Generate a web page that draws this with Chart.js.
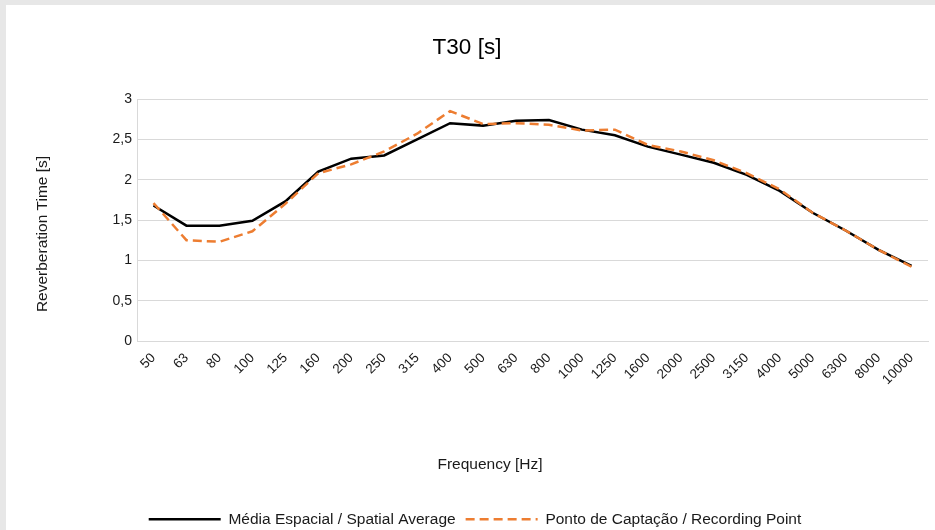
<!DOCTYPE html>
<html>
<head>
<meta charset="utf-8">
<script src="https://cdn.jsdelivr.net/npm/chart.js@4.4.0/dist/chart.umd.min.js"></script>
<style>
  html, body { margin: 0; padding: 0; background: #e7e7e7; overflow: hidden; }
  #card { position: absolute; left: 6px; top: 5px; width: 929px; height: 532px; background: #fff; }
</style>
</head>
<body>
<div id="card"><canvas id="myChart" width="929" height="532"></canvas></div>
<script>
  const frequencies = ['50', '63', '80', '100', '125', '160', '200', '250', '315', '400', '500', '630',
    '800', '1000', '1250', '1600', '2000', '2500', '3150', '4000', '5000', '6300', '8000', '10000'];
  const spatialAverage = [1.68, 1.43, 1.43, 1.49, 1.73, 2.10, 2.26, 2.30, 2.50, 2.70, 2.67, 2.73,
    2.74, 2.62, 2.55, 2.41, 2.31, 2.21, 2.06, 1.86, 1.59, 1.37, 1.13, 0.93];
  const recordingPoint = [1.71, 1.25, 1.23, 1.36, 1.70, 2.08, 2.19, 2.35, 2.57, 2.85, 2.69, 2.70,
    2.68, 2.61, 2.62, 2.43, 2.35, 2.24, 2.08, 1.88, 1.59, 1.37, 1.13, 0.92];
  const yTickLabels = ['0', '0,5', '1', '1,5', '2', '2,5', '3'];

  const chartTitle = 'T30 [s]';
  const xTitle = 'Frequency [Hz]';
  const yTitle = 'Reverberation Time [s]';

  const FONT = '"Liberation Sans", Arial, sans-serif';

  // axis titles drawn by hand so they sit where the original has them
  const axisTitles = {
    id: 'axisTitles',
    afterLayout(chart) {
      // legend sits a bit right of the canvas centre in the original
      chart.legend.left += 8;
      chart.legend.right += 8;
    },
    afterDraw(chart) {
      const ctx = chart.ctx;
      ctx.save();
      ctx.fillStyle = '#1a1a1a';
      ctx.font = '15.5px ' + FONT;
      ctx.textAlign = 'center';
      ctx.textBaseline = 'middle';
      ctx.fillText(xTitle, 484, 460);
      ctx.translate(37, 229);
      ctx.rotate(-Math.PI / 2);
      ctx.fillText(yTitle, 0, 0);
      ctx.restore();
    }
  };

  function legendLabels(chart) {
    const items = Chart.defaults.plugins.legend.labels.generateLabels(chart);
    items.forEach(item => {
      const ds = chart.data.datasets[item.datasetIndex];
      item.lineDash = ds.borderDash || [];
      item.lineWidth = ds.borderWidth;
      item.strokeStyle = ds.borderColor;
    });
    return items;
  }

  function render() {
    const ctx = document.getElementById('myChart').getContext('2d');
    new Chart(ctx, {
      type: 'line',
      data: {
        labels: frequencies,
        datasets: [
          {
            label: 'Ponto de Captação / Recording Point',
            data: recordingPoint,
            borderColor: '#ed7d31',
            backgroundColor: '#ed7d31',
            borderWidth: 2.5,
            borderDash: [9, 5],
            pointRadius: 0,
            tension: 0,
            fill: false
          },
          {
            label: 'Média Espacial / Spatial Average',
            data: spatialAverage,
            borderColor: '#000000',
            backgroundColor: '#000000',
            borderWidth: 2.5,
            pointRadius: 0,
            tension: 0,
            fill: false
          }
        ]
      },
      options: {
        responsive: false,
        animation: false,
        layout: { padding: { left: 0, right: 7, top: 0, bottom: 0 } },
        plugins: {
          title: {
            display: true,
            text: chartTitle,
            color: '#000',
            font: { family: FONT, size: 22.5, weight: 'normal' },
            padding: { top: 29.5, bottom: 37.5 }
          },
          legend: {
            position: 'bottom',
            labels: {
              usePointStyle: true,
              pointStyle: 'line',
              pointStyleWidth: 72,
              padding: 10,
              color: '#1a1a1a',
              font: { family: FONT, size: 15.5 },
              generateLabels: legendLabels,
              sort: (a, b) => b.datasetIndex - a.datasetIndex
            }
          },
          tooltip: { enabled: false }
        },
        scales: {
          x: {
            offset: true,
            grid: { display: false },
            border: { display: true, color: '#d9d9d9' },
            ticks: {
              color: '#1a1a1a',
              font: { family: FONT, size: 13.5 },
              maxRotation: 45,
              minRotation: 45,
              autoSkip: false,
              padding: 1
            },
            afterFit: (scale) => { scale.height = 160.5; }
          },
          y: {
            min: 0,
            max: 3,
            grid: { color: '#d9d9d9', drawTicks: false },
            border: { display: true, color: '#d9d9d9' },
            ticks: {
              stepSize: 0.5,
              padding: 5,
              color: '#1a1a1a',
              font: { family: FONT, size: 14 },
              callback: (value, index) => yTickLabels[index]
            },
            afterFit: (scale) => { scale.width = 131; }
          }
        }
      },
      plugins: [axisTitles]
    });
  }

  window.onload = function() {
    render();
  }
</script>
</body>
</html>
